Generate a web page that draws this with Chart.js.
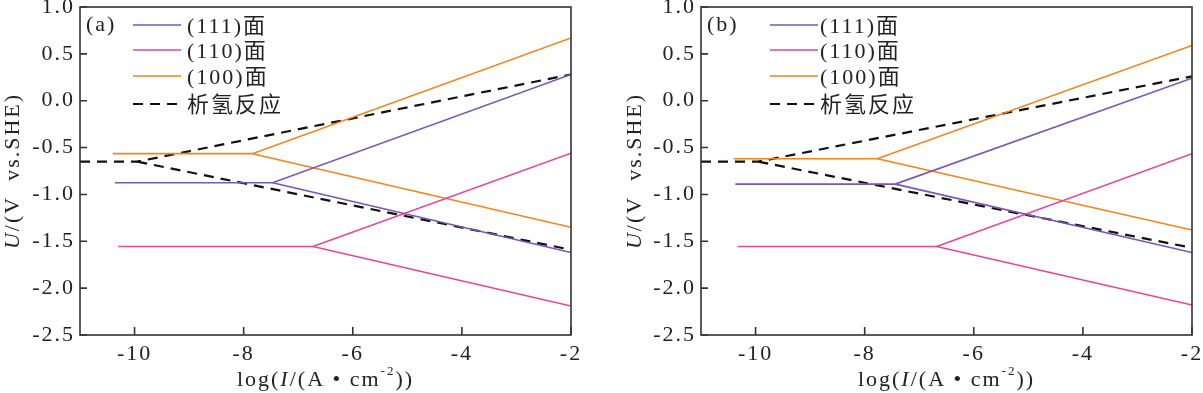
<!DOCTYPE html>
<html>
<head>
<meta charset="utf-8">
<script src="https://cdn.jsdelivr.net/npm/chart.js@4/dist/chart.umd.min.js"></script>
<style>
  html, body { margin: 0; padding: 0; background: #fff; }
  #wrap { position: relative; width: 1203px; height: 393px; overflow: hidden; }
  canvas { position: absolute; top: 0; }
  #chartA { left: 0; }
  #chartB { left: 600px; }
</style>
</head>
<body>
<div id="wrap">
  <canvas id="chartA" width="600" height="393"></canvas>
  <canvas id="chartB" width="603" height="393"></canvas>
</div>
<script>
// series order: (111), (110), (100), hydrogen evolution
const seriesNames = ["(111)面", "(110)面", "(100)面", "析氢反应"];
const seriesColors = ["#7b56b2", "#e8449a", "#f2841e", "#111111"];

const xTickValues = [-10, -8, -6, -4, -2];
const yTickValues = [1.0, 0.5, 0.0, -0.5, -1.0, -1.5, -2.0, -2.5];
const xEnd = -2;

// panel (a)
const xStartA = [-10.36, -10.3, -10.4, -11];
const xKneeA = [-7.47, -6.73, -7.84, -9.95];
const yFlatA = [-0.875, -1.555, -0.565, -0.65];
const yUpperEndA = [0.28, -0.56, 0.67, 0.28];
const yLowerEndA = [-1.62, -2.19, -1.35, -1.59];

// panel (b)
const xStartB = [-10.37, -10.33, -10.4, -11];
const xKneeB = [-7.44, -6.68, -7.77, -9.95];
const yFlatB = [-0.89, -1.555, -0.62, -0.65];
const yUpperEndB = [0.24, -0.565, 0.59, 0.26];
const yLowerEndB = [-1.62, -2.18, -1.38, -1.57];

const serif = "'Liberation Serif', 'Times New Roman', 'Noto Sans CJK SC', serif";
const spacing = "2px";
const fontSize = 22;

function buildDatasets(xStart, xKnee, yFlat, yUpper, yLower) {
  const sets = [];
  seriesNames.forEach((name, i) => {
    const dashed = i === 3;
    const style = {
      borderColor: seriesColors[i],
      borderWidth: dashed ? 2.2 : 1.6,
      borderDash: dashed ? [10, 7] : [],
      pointRadius: 0,
      showLine: true,
      fill: false,
      tension: 0
    };
    sets.push(Object.assign({
      label: name,
      data: [{ x: xStart[i], y: yFlat[i] }, { x: xKnee[i], y: yFlat[i] }, { x: xEnd, y: yUpper[i] }]
    }, style));
    sets.push(Object.assign({
      label: name + "_lower",
      data: [{ x: xKnee[i], y: yFlat[i] }, { x: xEnd, y: yLower[i] }]
    }, style));
  });
  return sets;
}

function drawSegments(ctx, parts, x, y, size) {
  // measure whole run first, then draw centered at x
  let total = 0;
  parts.forEach(p => {
    ctx.font = (p.italic ? "italic " : "") + Math.round(size * (p.sup ? 0.6 : 1)) + "px " + serif;
    total += ctx.measureText(p.t).width;
  });
  let cx = x - total / 2;
  parts.forEach(p => {
    ctx.font = (p.italic ? "italic " : "") + Math.round(size * (p.sup ? 0.6 : 1)) + "px " + serif;
    ctx.fillText(p.t, cx, p.sup ? y - size * 0.38 : y);
    cx += ctx.measureText(p.t).width;
  });
}

const panelPlugin = {
  id: "panelDecor",
  beforeLayout(chart) {
    chart.ctx.letterSpacing = spacing;
  },
  beforeDraw(chart) {
    chart.ctx.letterSpacing = spacing;
  },
  afterDraw(chart) {
    const opts = chart.options.plugins.panelDecor;
    const ctx = chart.ctx;
    const area = chart.chartArea;
    const xs = chart.scales.x;
    const ys = chart.scales.y;

    ctx.save();
    ctx.letterSpacing = spacing;
    // frame
    ctx.strokeStyle = "#333";
    ctx.lineWidth = 1.6;
    ctx.strokeRect(area.left, area.top, area.right - area.left, area.bottom - area.top);

    // inward ticks
    ctx.beginPath();
    xTickValues.forEach(v => {
      const px = xs.getPixelForValue(v);
      ctx.moveTo(px, area.bottom);
      ctx.lineTo(px, area.bottom - 8);
    });
    yTickValues.forEach(v => {
      const py = ys.getPixelForValue(v);
      ctx.moveTo(area.left, py);
      ctx.lineTo(area.left + 7, py);
    });
    ctx.stroke();

    ctx.fillStyle = "#222";
    ctx.textBaseline = "middle";
    ctx.textAlign = "left";

    // panel tag
    ctx.font = fontSize + "px " + serif;
    ctx.fillText(opts.tag, area.left + 6, area.top + 18);

    // legend
    const rowY = [18, 43, 69, 97];
    const main = chart.data.datasets.filter(d => !d.label.endsWith("_lower"));
    main.forEach((d, i) => {
      const y = area.top + rowY[i];
      ctx.beginPath();
      ctx.strokeStyle = d.borderColor;
      ctx.lineWidth = d.borderWidth;
      ctx.setLineDash(d.borderDash);
      ctx.moveTo(area.left + opts.legendLine, y);
      ctx.lineTo(area.left + opts.legendLine + 48, y);
      ctx.stroke();
      ctx.setLineDash([]);
      ctx.font = fontSize + "px " + serif;
      ctx.fillText(d.label, area.left + opts.legendText, y + 2);
    });

    // axis titles
    drawSegments(ctx, [
      { t: "log(" }, { t: "I", italic: true }, { t: "/(A • cm" }, { t: "-2", sup: true }, { t: "))" }
    ], (area.left + area.right) / 2, 380, fontSize);

    ctx.translate(opts.yTitleX, (area.top + area.bottom) / 2);
    ctx.rotate(-Math.PI / 2);
    drawSegments(ctx, [{ t: "U", italic: true }, { t: "/(V  vs.SHE)" }], 0, 0, fontSize);
    ctx.restore();
  }
};

function makeChart(canvasId, datasets, decor, yAxisWidth, rightPad) {
  const ctx = document.getElementById(canvasId).getContext("2d");
  return new Chart(ctx, {
    type: "scatter",
    data: { datasets: datasets },
    plugins: [panelPlugin],
    options: {
      responsive: false,
      devicePixelRatio: 1,
      animation: false,
      layout: { padding: { top: 7, right: rightPad, left: 0, bottom: 0 } },
      plugins: {
        legend: { display: false },
        tooltip: { enabled: false },
        panelDecor: decor
      },
      scales: {
        x: {
          type: "linear",
          min: -11,
          max: -2,
          grid: { display: false, drawTicks: false },
          border: { display: false },
          afterBuildTicks: scale => { scale.ticks = xTickValues.map(v => ({ value: v })); },
          afterFit: scale => {
            scale.height = 58;
            scale.paddingLeft = 0;
            scale.paddingRight = 0;
          },
          ticks: {
            padding: 6,
            color: "#222",
            font: { family: serif, size: fontSize },
            callback: v => String(v)
          }
        },
        y: {
          type: "linear",
          min: -2.5,
          max: 1.0,
          grid: { display: false, drawTicks: false },
          border: { display: false },
          afterBuildTicks: scale => { scale.ticks = yTickValues.map(v => ({ value: v })); },
          afterFit: scale => {
            scale.width = yAxisWidth;
            scale.paddingTop = 0;
            scale.paddingBottom = 0;
          },
          ticks: {
            padding: 5,
            color: "#222",
            font: { family: serif, size: fontSize },
            callback: v => v.toFixed(1)
          }
        }
      }
    }
  });
}

makeChart("chartA", buildDatasets(xStartA, xKneeA, yFlatA, yUpperEndA, yLowerEndA),
  { tag: "(a)", legendLine: 53, legendText: 107, yTitleX: 13 }, 80, 29);
makeChart("chartB", buildDatasets(xStartB, xKneeB, yFlatB, yUpperEndB, yLowerEndB),
  { tag: "(b)", legendLine: 69, legendText: 119, yTitleX: 35 }, 101, 11);
</script>
</body>
</html>
